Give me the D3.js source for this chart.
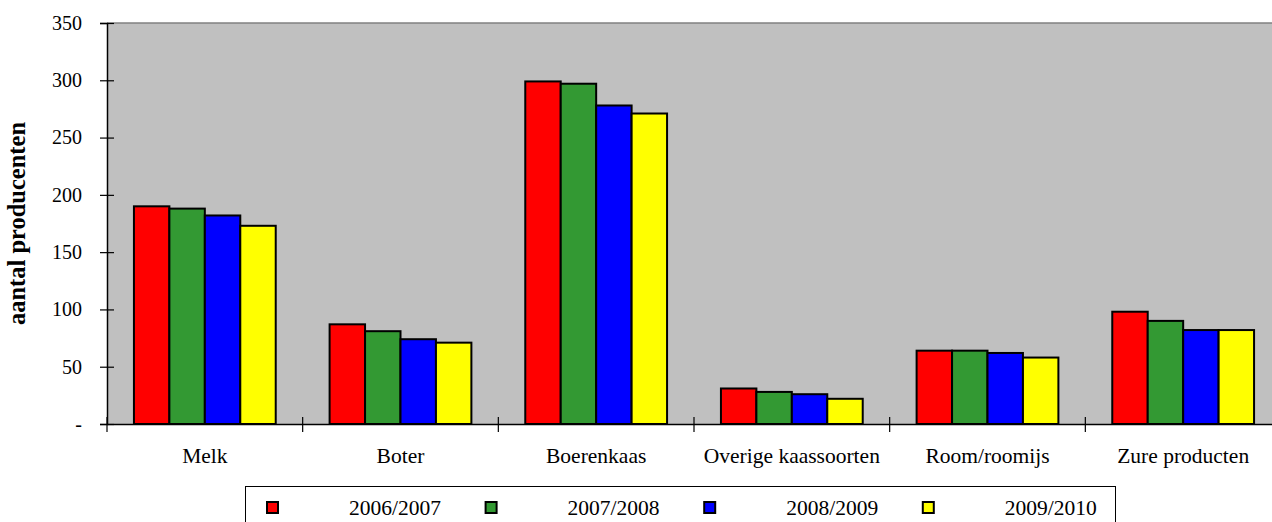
<!DOCTYPE html>
<html>
<head>
<meta charset="utf-8">
<script src="https://cdn.jsdelivr.net/npm/d3@7"></script>
<style>
    body { margin: 0; background: #fff; }
    svg text { font-family: "Liberation Serif", "Times New Roman", serif; fill: #000; }
</style>
</head>
<body>
<div id="chart"></div>
<script>
// categories and series
const categories = ["Melk", "Boter", "Boerenkaas", "Overige kaassoorten", "Room/roomijs", "Zure producten"];
const seasons = ["2006/2007", "2007/2008", "2008/2009", "2009/2010"];
const colors = ["#ff0000", "#339933", "#0000ff", "#ffff00"];

const v2006 = [190, 87, 299, 31, 64, 98];
const v2007 = [188, 81, 297, 28, 64, 90];
const v2008 = [182, 74, 278, 26, 62, 82];
const v2009 = [173, 71, 271, 22, 58, 82];
const seriesValues = [v2006, v2007, v2008, v2009];

const yTicks = [0, 50, 100, 150, 200, 250, 300, 350];

const width = 1272, height = 522,
    margin = { top: 23, left: 107 },
    plotW = 1174, plotH = 401;

const svg = d3.select("#chart").append("svg")
    .attr("width", width).attr("height", height);

let x0 = d3.scaleBand().domain(categories).range([margin.left, margin.left + plotW]).padding(0),
    x1 = d3.scaleBand().domain(seasons).range([0, x0.bandwidth()]).paddingInner(0).paddingOuter(0.76),
    y = d3.scaleLinear().domain([0, 350]).range([margin.top + plotH, margin.top]);

// plot background
svg.append("rect")
    .attr("x", margin.left).attr("y", margin.top)
    .attr("width", plotW).attr("height", plotH)
    .attr("fill", "#c0c0c0");
svg.append("line")
    .attr("x1", margin.left).attr("x2", margin.left + plotW)
    .attr("y1", margin.top).attr("y2", margin.top)
    .attr("stroke", "#808080").attr("stroke-width", 1.5);

// bars
let data = [];
categories.forEach((c, ci) => {
    seasons.forEach((s, si) => data.push({ cat: c, season: s, i: si, value: seriesValues[si][ci] }));
});

svg.selectAll(".bar")
    .data(data)
    .enter().append("rect")
    .attr("class", "bar")
    .attr("x", d => x0(d.cat) + x1(d.season))
    .attr("y", d => y(d.value))
    .attr("width", x1.bandwidth())
    .attr("height", d => y(0) - y(d.value))
    .attr("fill", d => colors[d.i])
    .attr("stroke", "#000")
    .attr("stroke-width", 2);

// y axis
let yAxis = svg.append("g")
    .attr("transform", "translate(" + margin.left + ",0)")
    .call(d3.axisLeft(y).tickValues(yTicks).tickSize(7).tickPadding(18)
        .tickFormat(d => d === 0 ? "-" : d))
    .attr("font-family", null).attr("font-size", null);
yAxis.select(".domain").attr("stroke", "#000").attr("stroke-width", 1.5);
yAxis.selectAll(".tick line").attr("x2", 7).attr("x1", -7).attr("stroke", "#000").attr("stroke-width", 1.2);
yAxis.selectAll("text").style("font-size", "20px");

// x axis
let xAxis = svg.append("g")
    .attr("transform", "translate(0," + y(0) + ")")
    .call(d3.axisBottom(x0).tickSize(0).tickPadding(24))
    .attr("font-family", null).attr("font-size", null);
xAxis.select(".domain").attr("stroke", "#000").attr("stroke-width", 1.5);
xAxis.selectAll("text").style("font-size", "21.5px");

// category separators
svg.selectAll(".sep")
    .data(categories)
    .enter().append("line")
    .attr("x1", d => x0(d)).attr("x2", d => x0(d))
    .attr("y1", y(0) - 7).attr("y2", y(0) + 8)
    .attr("stroke", "#000").attr("stroke-width", 1.2);

// y title
svg.append("text")
    .attr("transform", "translate(25," + (margin.top + plotH / 2) + ") rotate(-90)")
    .attr("text-anchor", "middle")
    .style("font-size", "24.5px").style("font-weight", "bold")
    .text("aantal producenten");

// legend
let legend = svg.append("g");
legend.append("rect")
    .attr("x", 245.5).attr("y", 486.5)
    .attr("width", 870).attr("height", 50)
    .attr("fill", "#fff").attr("stroke", "#000").attr("stroke-width", 1);

let items = legend.selectAll(".item")
    .data(seasons)
    .enter().append("g")
    .attr("transform", (d, i) => "translate(" + (267 + i * 218.6) + ",0)");
items.append("rect")
    .attr("x", 0).attr("y", 502)
    .attr("width", 11).attr("height", 11)
    .attr("fill", (d, i) => colors[i])
    .attr("stroke", "#000").attr("stroke-width", 2);
items.append("text")
    .attr("x", 128).attr("y", 515)
    .attr("text-anchor", "middle")
    .style("font-size", "21.5px")
    .text(d => d);
</script>
</body>
</html>
